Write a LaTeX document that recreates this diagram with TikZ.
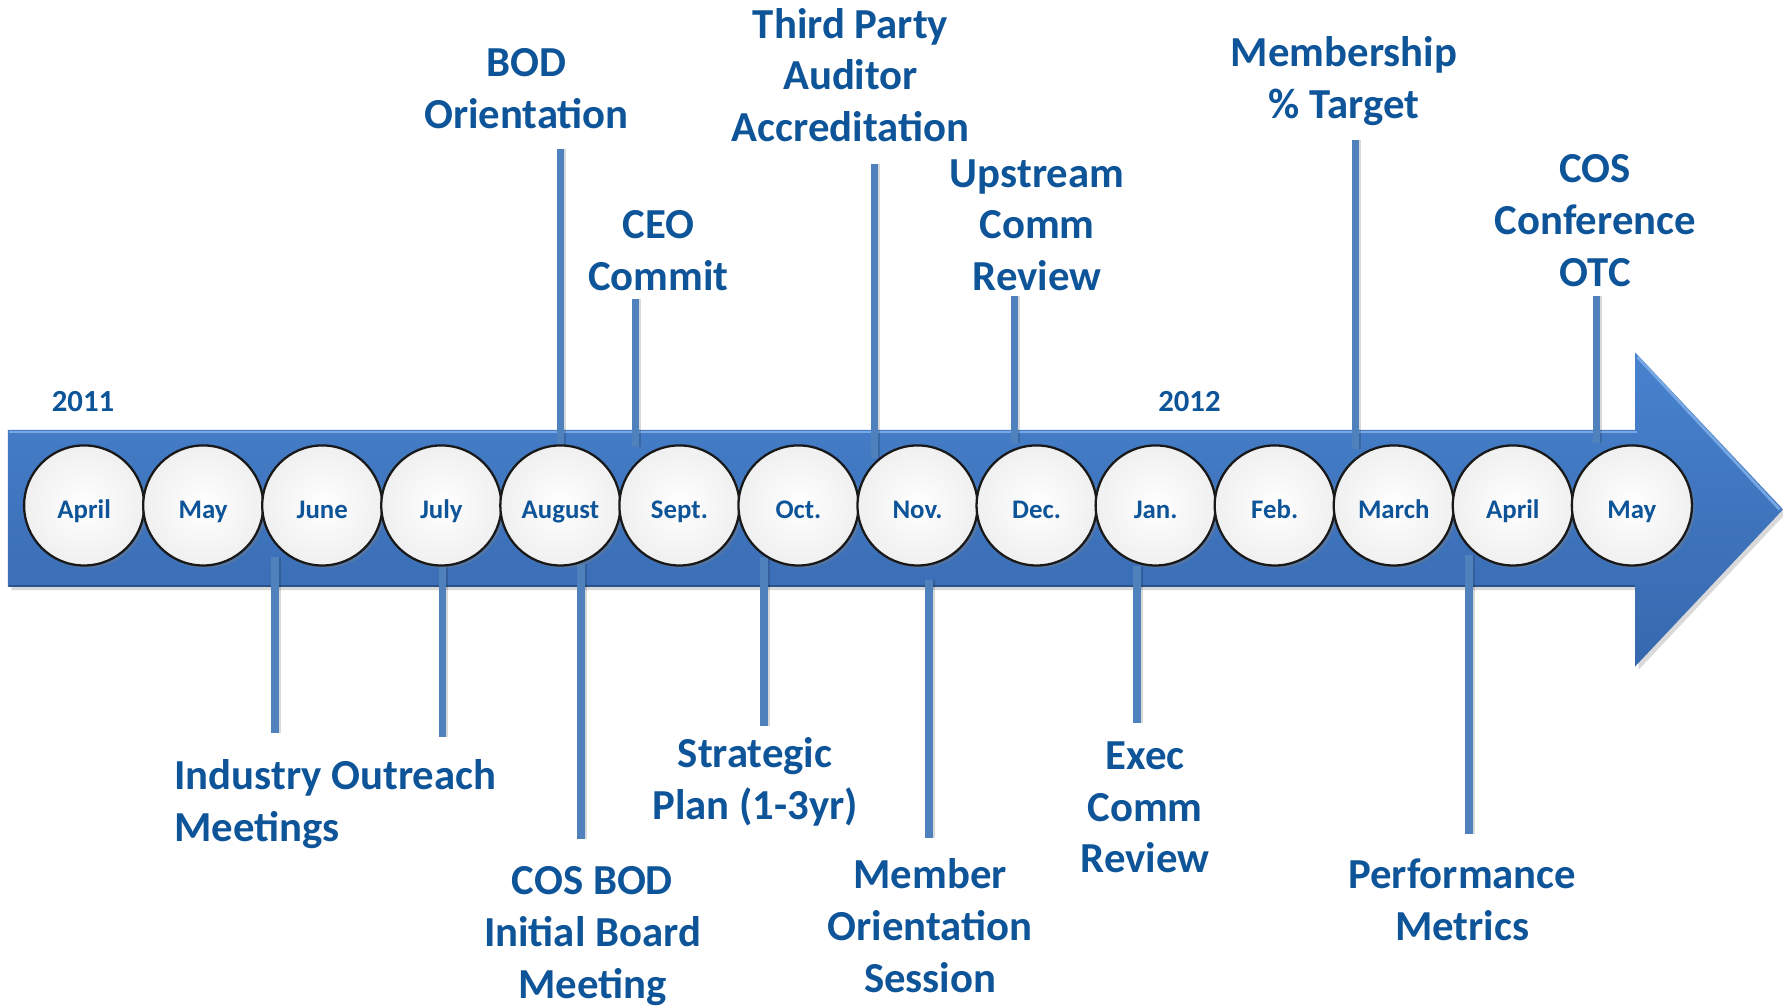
\documentclass[tikz,border=0pt]{standalone}
\usepackage{fontspec}
\setmainfont{Carlito}
\usetikzlibrary{shadows}
\definecolor{tc}{RGB}{14,84,152}
\definecolor{lc}{RGB}{79,129,189}
\definecolor{abtop}{RGB}{72,130,206}
\definecolor{abbot}{RGB}{54,104,174}
\definecolor{abhi}{RGB}{120,168,228}
\tikzset{
  lbl/.style={text=tc, font=\fontsize{18.8}{22.8}\selectfont\bfseries, align=center, inner sep=0pt},
  yr/.style={text=tc, font=\fontsize{13.5}{16}\selectfont\bfseries, inner sep=0pt},
  mon/.style={circle, minimum size=52.8pt, inner sep=0pt, draw=black!90, line width=1pt,
    inner color=white, outer color=white!94!black, text=tc,
    text height=11.4pt, text depth=0pt,
    font=\fontsize{11.8}{13}\selectfont\bfseries,
    drop shadow={opacity=0.35, shadow xshift=1.2pt, shadow yshift=-1.2pt}},
  conn/.style={draw=lc, line width=3.3pt,
    preaction={draw=black, opacity=0.15, line width=3.3pt, transform canvas={xshift=0.9pt}}}
}
\begin{document}
\begin{tikzpicture}[x=0.5pt,y=-0.5pt]
\useasboundingbox (0,0) rectangle (1568,885.6);
% timeline arrow
\path[top color=abtop, bottom color=abbot,
  drop shadow={opacity=0.3, shadow xshift=1.5pt, shadow yshift=-1.5pt}]
  (7,378) -- (1438,378) -- (1438,310) -- (1568,448) -- (1438,586) -- (1438,516) -- (7,516) -- cycle;
\draw[abhi, line width=1.2pt] (8,380) -- (1440,380);
\draw[abhi, line width=1.2pt] (1440,314) -- (1565,448);
\draw[abbot!80!black, line width=0.8pt] (8,515) -- (1438,515);
% connector end points
\coordinate (t1a) at (493,131); \coordinate (t1b) at (493,391);
\coordinate (t2a) at (559,263); \coordinate (t2b) at (559,393);
\coordinate (t3a) at (769,144); \coordinate (t3b) at (769,403);
\coordinate (t4a) at (892,260); \coordinate (t4b) at (892,390);
\coordinate (t5a) at (1192,123); \coordinate (t5b) at (1192,395);
\coordinate (t6a) at (1404,260); \coordinate (t6b) at (1404,390);
\coordinate (b1a) at (242,490); \coordinate (b1b) at (242,645);
\coordinate (b2a) at (389,497); \coordinate (b2b) at (389,648);
\coordinate (b3a) at (511,496); \coordinate (b3b) at (511,738);
\coordinate (b4a) at (672,490); \coordinate (b4b) at (672,638);
\coordinate (b5a) at (817,510); \coordinate (b5b) at (817,737);
\coordinate (b6a) at (1000,498); \coordinate (b6b) at (1000,636);
\coordinate (b7a) at (1292,488); \coordinate (b7b) at (1292,733);
% connectors
\draw[conn] (t1a) -- (t1b);
\draw[conn] (t2a) -- (t2b);
\draw[conn] (t3a) -- (t3b);
\draw[conn] (t4a) -- (t4b);
\draw[conn] (t5a) -- (t5b);
\draw[conn] (t6a) -- (t6b);
\draw[conn] (b1a) -- (b1b);
\draw[conn] (b2a) -- (b2b);
\draw[conn] (b3a) -- (b3b);
\draw[conn] (b4a) -- (b4b);
\draw[conn] (b5a) -- (b5b);
\draw[conn] (b6a) -- (b6b);
\draw[conn] (b7a) -- (b7b);
% months
\foreach \m [count=\i from 0] in {April,May,June,July,August,Sept.,Oct.,Nov.,Dec.,Jan.,Feb.,March,April,May}
  \node[mon] (m\i) at ({74+104.7*\i},444.5) {\m};
% years
\node[yr] (y1) at (73,353) {2011};
\node[yr] (y2) at (1046,353) {2012};
% labels above
\node[lbl] (bod) at (463,78) {BOD\\Orientation};
\node[lbl] (tpa) at (748,66) {Third Party\\Auditor\\Accreditation};
\node[lbl] (ceo) at (579,220.5) {CEO\\Commit};
\node[lbl] (ups) at (912,198) {Upstream\\Comm\\Review};
\node[lbl] (mem) at (1182,71) {Membership\\\% Target};
\node[lbl] (cos) at (1403,194) {COS\\Conference\\OTC};
% labels below
\node[lbl, align=left, anchor=west] (ind) at (153,707.5) {Industry Outreach\\Meetings};
\node[lbl] (cbd) at (521,823) {COS BOD\\Initial Board\\Meeting};
\node[lbl] (str) at (664,687.5) {Strategic\\Plan (1-3yr)};
\node[lbl] (mos) at (818,814) {Member\\Orientation\\Session};
\node[lbl] (exe) at (1007,710) {Exec\\Comm\\Review};
\node[lbl] (prf) at (1286,791.5) {Performance\\Metrics};
\end{tikzpicture}
\end{document}
